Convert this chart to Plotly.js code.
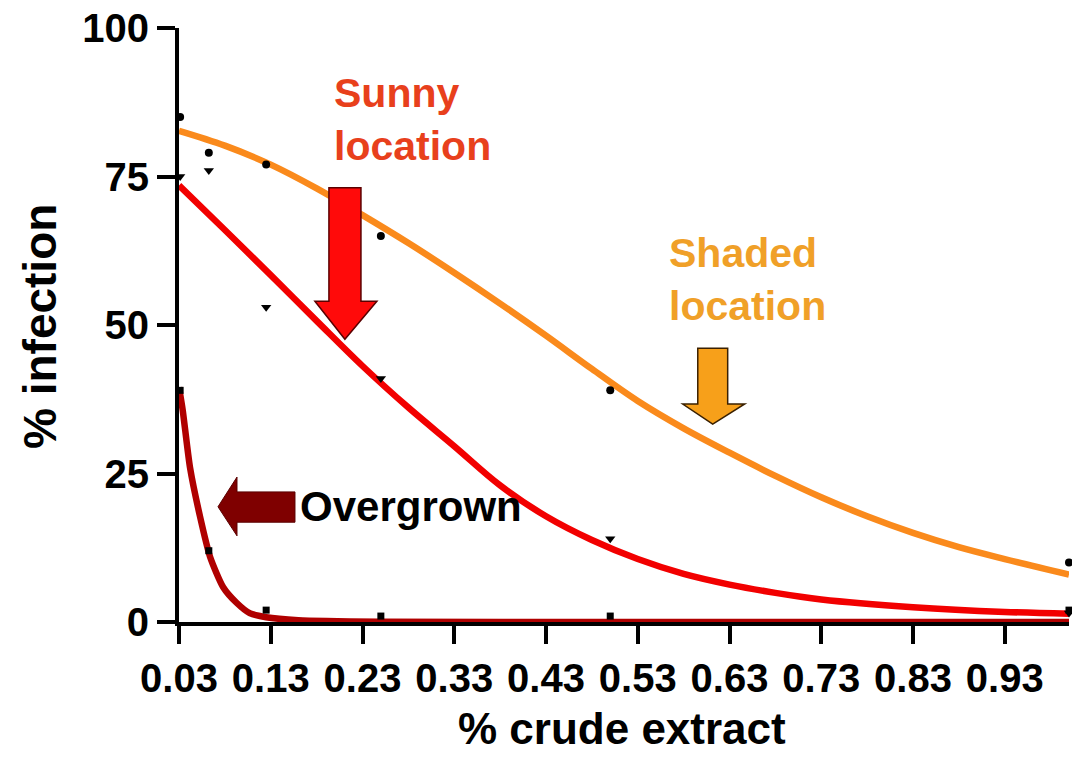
<!DOCTYPE html>
<html>
<head>
<meta charset="utf-8">
<script src="https://cdn.plot.ly/plotly-3.0.1.min.js"></script>
<style>html,body{margin:0;padding:0;background:#fff;}#chart{width:1072px;height:758px;}</style>
</head>
<body>
<div id="chart"></div>
<script>
// ---- data ----
var doses = [0.03125, 0.0625, 0.125, 0.25, 0.5, 1.0];
var shadedPoints = [85, 79, 77, 65, 39, 10];
var sunnyPoints = [75, 76, 53, 41, 14, 1.5];
var overgrownPoints = [39, 12, 2, 1, 1, 2];

var shadedCurveX = [0.03, 0.08, 0.13, 0.18, 0.23, 0.28, 0.33, 0.38, 0.43, 0.48, 0.53, 0.58, 0.63, 0.68, 0.73, 0.78, 0.83, 0.88, 0.93, 1.0];
var shadedCurveY = [82.7, 80.2, 77.0, 73.0, 68.5, 63.8, 58.8, 53.6, 48.2, 42.6, 37.2, 32.6, 28.5, 24.6, 21.0, 17.8, 15.0, 12.6, 10.6, 8.0];

var sunnyCurveX = [0.03, 0.08, 0.13, 0.18, 0.23, 0.28, 0.33, 0.38, 0.43, 0.48, 0.53, 0.58, 0.63, 0.68, 0.73, 0.83, 0.93, 1.0];
var sunnyCurveY = [73.5, 66.0, 58.4, 50.7, 43.1, 36.1, 29.6, 23.0, 17.8, 13.8, 10.6, 8.1, 6.3, 4.9, 3.8, 2.5, 1.7, 1.4];

var overCurveX = [0.03, 0.034, 0.042, 0.053, 0.064, 0.078, 0.093, 0.107, 0.125, 0.16, 0.25, 0.5, 1.0];
var overCurveY = [39.5, 35.7, 26.0, 17.7, 10.9, 5.9, 3.2, 1.5, 0.8, 0.3, 0.05, 0, 0];

var xTicks = [0.03, 0.13, 0.23, 0.33, 0.43, 0.53, 0.63, 0.73, 0.83, 0.93];
var xTickText = ['0.03', '0.13', '0.23', '0.33', '0.43', '0.53', '0.63', '0.73', '0.83', '0.93'];
var yTicks = [0, 25, 50, 75, 100];

// ---- styles ----
var ORANGE = '#fa8a1c', RED = '#f20000', DARKRED = '#b00000';
var FONT = 'Liberation Sans, Arial, sans-serif';

var traces = [
  {x: shadedCurveX, y: shadedCurveY, mode: 'lines', line: {color: ORANGE, width: 6.5, shape: 'spline', smoothing: 1}, hoverinfo: 'skip'},
  {x: sunnyCurveX, y: sunnyCurveY, mode: 'lines', line: {color: RED, width: 6.5, shape: 'spline', smoothing: 1}, hoverinfo: 'skip'},
  {x: overCurveX, y: overCurveY, mode: 'lines', line: {color: DARKRED, width: 6.5, shape: 'spline', smoothing: 0.6}, hoverinfo: 'skip'},
  {x: doses, y: shadedPoints, mode: 'markers', marker: {symbol: 'circle', size: 8, color: '#000'}, cliponaxis: false},
  {x: doses, y: sunnyPoints, mode: 'markers', marker: {symbol: 'triangle-down', size: 9, color: '#000'}, cliponaxis: false},
  {x: doses, y: overgrownPoints, mode: 'markers', marker: {symbol: 'square', size: 7, color: '#000'}, cliponaxis: false}
];

function poly(pts) {
  return 'M' + pts.map(function (p) { return p[0] + ',' + p[1]; }).join(' L') + ' Z';
}

var shapes = [
  {type: 'path', xref: 'x', yref: 'y', fillcolor: '#ff0a0a', line: {color: '#5a0000', width: 1.5},
   path: poly([[0.1934, 73.1], [0.2283, 73.1], [0.2283, 54.0], [0.2457, 54.0], [0.2108, 47.6], [0.1781, 54.0], [0.1934, 54.0]])},
  {type: 'path', xref: 'x', yref: 'y', fillcolor: '#f7a01a', line: {color: '#3a2000', width: 1.5},
   path: poly([[0.5954, 46.1], [0.6280, 46.1], [0.6280, 36.7], [0.6466, 36.7], [0.6117, 33.3], [0.5790, 36.7], [0.5954, 36.7]])},
  {type: 'path', xref: 'x', yref: 'y', fillcolor: '#7f0000', line: {color: '#5a0000', width: 1},
   path: poly([[0.1564, 21.9], [0.1564, 16.8], [0.0932, 16.8], [0.0932, 14.5], [0.0725, 19.4], [0.0932, 24.4], [0.0932, 21.9]])}
];

var annotations = [
  {xref: 'x', yref: 'y', x: 0.197, y: 93.2, xanchor: 'left', yanchor: 'top', align: 'left', showarrow: false,
   text: 'Sunny<br>location', font: {family: FONT, size: 41, color: '#e8401c', weight: 'bold'}},
  {xref: 'x', yref: 'y', x: 0.562, y: 66.3, xanchor: 'left', yanchor: 'top', align: 'left', showarrow: false,
   text: 'Shaded<br>location', font: {family: FONT, size: 41, color: '#f0a028', weight: 'bold'}},
  {xref: 'x', yref: 'y', x: 0.160, y: 19.4, xanchor: 'left', yanchor: 'middle', align: 'left', showarrow: false,
   text: 'Overgrown', font: {family: FONT, size: 42, color: '#000', weight: 'bold'}},
  {xref: 'paper', yref: 'paper', x: (40 - 179) / 890, y: (622 - 327) / 594, xanchor: 'center', yanchor: 'middle', showarrow: false,
   textangle: -90, text: '% infection', font: {family: FONT, size: 46, color: '#000', weight: 'bold'}},
  {xref: 'paper', yref: 'paper', x: (622 - 179) / 890, y: (622 - 728) / 594, xanchor: 'center', yanchor: 'middle', showarrow: false,
   text: '% crude extract', font: {family: FONT, size: 44, color: '#000', weight: 'bold'}}
];

var layout = {
  width: 1072, height: 758,
  margin: {l: 179, r: 3, t: 28, b: 136},
  paper_bgcolor: '#fff', plot_bgcolor: '#fff',
  showlegend: false,
  xaxis: {
    range: [0.03, 1.0], tickmode: 'array', tickvals: xTicks, ticktext: xTickText,
    showgrid: false, zeroline: false, showline: true, linecolor: '#000', linewidth: 4,
    ticks: 'outside', ticklen: 18, tickwidth: 4, tickcolor: '#000',
    tickfont: {family: FONT, size: 40, color: '#000', weight: 'bold'}
  },
  yaxis: {
    range: [0, 100], tickmode: 'array', tickvals: yTicks,
    showgrid: false, zeroline: false, showline: true, linecolor: '#000', linewidth: 4,
    ticks: 'outside', ticklen: 18, tickwidth: 4, tickcolor: '#000',
    tickfont: {family: FONT, size: 40, color: '#000', weight: 'bold'}
  },
  shapes: shapes,
  annotations: annotations
};

Plotly.newPlot('chart', traces, layout, {displayModeBar: false, staticPlot: true});
</script>
</body>
</html>
